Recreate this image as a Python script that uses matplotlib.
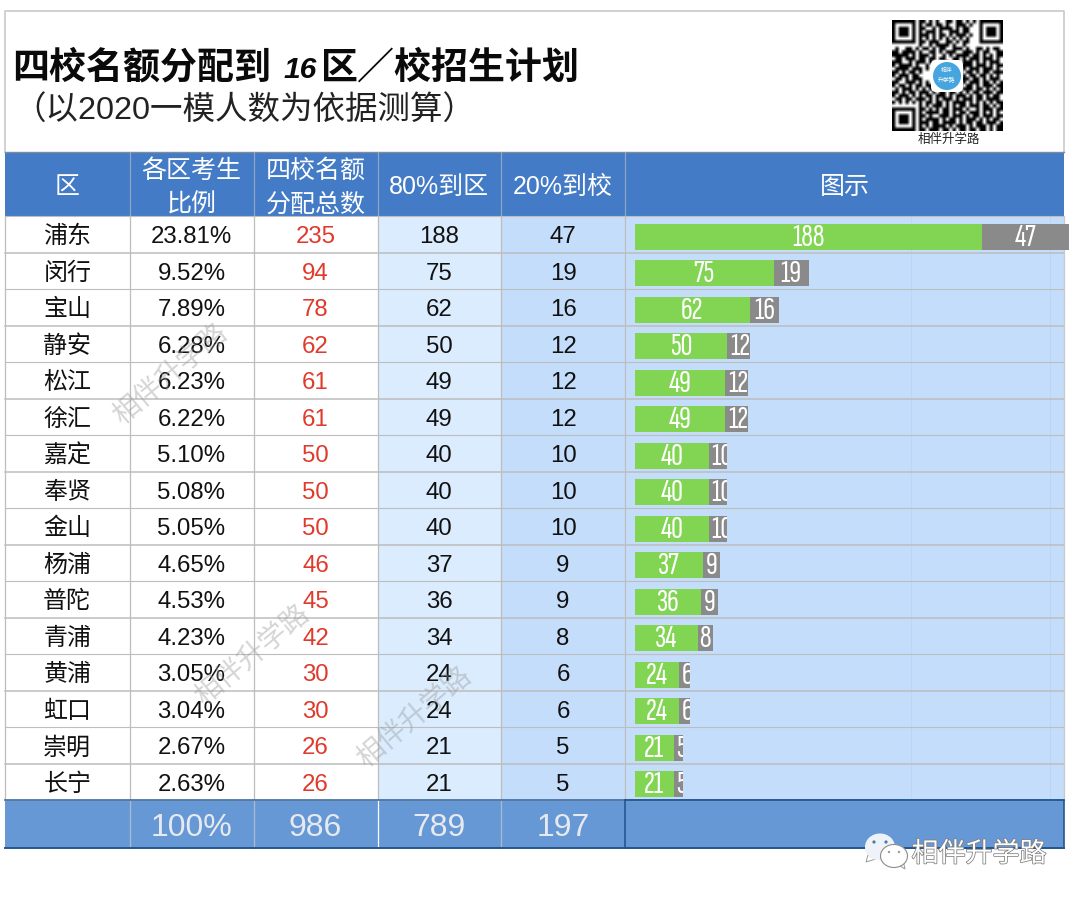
import numpy as np
import matplotlib
matplotlib.use("Agg")
import matplotlib.pyplot as plt
import matplotlib.patheffects as pe
from matplotlib.patches import Rectangle, Ellipse, Circle, FancyBboxPatch, Polygon

# ── data ─────────────────────────────────────────────
DISTRICTS = ["浦东", "闵行", "宝山", "静安", "松江", "徐汇", "嘉定", "奉贤",
             "金山", "杨浦", "普陀", "青浦", "黄浦", "虹口", "崇明", "长宁"]
RATIOS = ["23.81%", "9.52%", "7.89%", "6.28%", "6.23%", "6.22%", "5.10%", "5.08%",
          "5.05%", "4.65%", "4.53%", "4.23%", "3.05%", "3.04%", "2.67%", "2.63%"]
TOTALS = [235, 94, 78, 62, 61, 61, 50, 50, 50, 46, 45, 42, 30, 30, 26, 26]
TO_DISTRICT = [188, 75, 62, 50, 49, 49, 40, 40, 40, 37, 36, 34, 24, 24, 21, 21]
TO_SCHOOL = [47, 19, 16, 12, 12, 12, 10, 10, 10, 9, 9, 8, 6, 6, 5, 5]
FOOTER = ["", "100%", "986", "789", "197"]
HEADERS = ["区", "各区考生\n比例", "四校名额\n分配总数", "80%到区", "20%到校", "图示"]
BRAND = "相伴升学路"

# QR body, finder squares are stamped on afterwards
QR_ROWS = [
    "........##.#.#..##.##.#.#........",
    "........#.##.##.#..###.#.........",
    "........##..#.####.#.##..........",
    "........#.###.#..###.##..........",
    "........###.#.##.#.###.#.........",
    "........#.#.#.#.#.#.#.#..........",
    "........##.###..##.#.##..........",
    "........#..#.####.#..#...........",
    ".#..##.#.##.#.##..###.#..##.#.##.",
    "##.####.#..##.#.###..###.#.##..##",
    "#####.#.###.#..#.#.####.##.#.#.##",
    ".##.###.##.##.##..##.#.###.###.#.",
    "###..#.###.#....#.##.###.#.#.###.",
    "#.####.#..#.......#.####.###.#.##",
    ".####.###.#........#.#.###.###.#.",
    "##.#.##.#.........###.##.#.##.###",
    "#.###.##...........#.#.##.##.#.#.",
    ".##.#.###.........#.###.##.#.###.",
    "##..###.#.#.......##.#.###.##.#.#",
    "#.##.#.##.##.....#.##.##.#.###.##",
    ".#.###.#.#.###.###.#.###.##.#.#.#",
    "##.#.##.###.#.##.##.#.#.##.###.##",
    "#.###.#.#.##.###.#.###.#.##.#.##.",
    ".##.##.###.#.#.###.#.###.##.####.",
    "#.#.#.#.#.##.##.#.####.#.#.#.#.##",
    "........#.#.###.#.#.##.###.##.#.#",
    "........##.#.#.##.###.#..#.###.##",
    "........#.####.##.#.##.###.#.#.#.",
    "........##.#..###.###.#.##.###.##",
    "........#.####.#.##.#.###.#.#.##.",
    "........###.##.####.#.##.##.###.#",
    "........#.#.####.#.###.#.###.#.##",
    "........##.###.##.#.##.##.##.#.##",
]

# ── colours ──────────────────────────────────────────
HEADER_BLUE = "#437BC6"
FOOTER_BLUE = "#6698D6"
DARK_LINE = "#22588F"
GRID = "#BDBDBD"
FRAME = "#C9C9C9"
COL_LIGHT = "#DAECFD"
COL_MID = "#C3DDFB"
RED = "#DF3A2B"
GREEN = "#82D552"
GREY_BAR = "#8A8A8A"
FOOT_TEXT = "#E6E9EE"

MIXED = ["Liberation Sans", "Noto Sans CJK SC"]
CJK = ["Noto Sans CJK SC", "Liberation Sans"]
NARROW = ["Sofia Sans Extra Condensed", "Barlow Condensed", "Liberation Sans"]

# ── layout in pixels ─────────────────────────────────
COL_X = [5, 129.5, 253.5, 377.5, 501, 625, 1064]
HEAD_TOP, HEAD_BOT = 152, 216
ROW_H = 36.5
FOOT_TOP = HEAD_BOT + ROW_H * len(DISTRICTS)
FOOT_BOT = 848
TEXT_DY = 3  # va="center" sits a little high for these fonts


def px(size):
    """font size given in pixels"""
    return size * 0.72


fig = plt.figure(figsize=(10.8, 9), dpi=100, facecolor="white")
ax = fig.add_axes([0, 0, 1, 1])
ax.set_xlim(0, 1080)
ax.set_ylim(900, 0)
ax.axis("off")

# frame above the table
ax.plot([5, 5, 1064, 1064], [HEAD_TOP, 11, 11, HEAD_TOP], color=FRAME, lw=1.2, zorder=1)

# title, the digits are set in italic like the original
ax.text(12, 68, "四校名额分配到", fontsize=px(37), fontweight="bold", family=CJK, va="center", color="#0a0a0a")
ax.text(300, 70, "16", fontsize=px(30), fontweight="bold", fontstyle="italic", family=["Liberation Sans"],
        ha="center", va="center", color="#0a0a0a")
ax.text(321, 68, "区／校招生计划", fontsize=px(37), fontweight="bold", family=CJK, va="center", color="#0a0a0a")
ax.text(13, 110, "（以2020一模人数为依据测算）", fontsize=px(32.5), family=MIXED, va="center", color="#222222")

# qr code
qr = np.array([[0.0 if c == "#" else 1.0 for c in r.ljust(33, ".")[:33]] for r in QR_ROWS])
for r0, c0 in [(0, 0), (0, 26), (26, 0)]:
    qr[r0:r0 + 7, c0:c0 + 7] = 0
    qr[r0 + 1:r0 + 6, c0 + 1:c0 + 6] = 1
    qr[r0 + 2:r0 + 5, c0 + 2:c0 + 5] = 0
ax.imshow(qr, cmap="gray", vmin=0, vmax=1, extent=(892, 1003, 131, 20), interpolation="bilinear",
          aspect="auto", zorder=2)
ax.set_xlim(0, 1080)
ax.set_ylim(900, 0)
ax.add_patch(FancyBboxPatch((931, 60), 32, 32, boxstyle="round,pad=0,rounding_size=5", fc="white", ec="none",
                            zorder=3))
ax.add_patch(Circle((947, 76), 14, fc="#46A5DE", ec="none", zorder=4))
ax.text(947, 70, "相伴", fontsize=4.2, color="white", family=CJK, ha="center", va="center", zorder=5)
ax.text(947, 80, "升学路", fontsize=4.2, color="white", family=CJK, ha="center", va="center", zorder=5)
ax.text(949, 139, BRAND, fontsize=px(12.5), color="#222222", family=CJK, ha="center", va="center")

# header band
ax.add_patch(Rectangle((5, HEAD_TOP), 1059, HEAD_BOT - HEAD_TOP, fc=HEADER_BLUE, ec="none", zorder=1))
ax.plot([5, 1064], [HEAD_TOP, HEAD_TOP], color="#7f8c9c", lw=1, zorder=2)
for i, label in enumerate(HEADERS):
    cx = (COL_X[i] + COL_X[i + 1]) / 2
    if i + 1 < len(HEADERS):
        ax.plot([COL_X[i + 1]] * 2, [HEAD_TOP, HEAD_BOT], color="#8fa6c4", lw=0.9, zorder=2)
    if "\n" in label:
        top, bottom = label.split("\n")
        ax.text(cx, 168 + TEXT_DY, top, fontsize=px(25), color="white", family=MIXED, ha="center", va="center", zorder=3)
        ax.text(cx, 203 + TEXT_DY - 1, bottom, fontsize=px(25), color="white", family=MIXED, ha="center", va="center", zorder=3)
    else:
        ax.text(cx, 185 + TEXT_DY - 1, label, fontsize=px(25), color="white", family=MIXED, ha="center", va="center", zorder=3)

# coloured body columns
ax.add_patch(Rectangle((COL_X[3], HEAD_BOT), COL_X[4] - COL_X[3], FOOT_TOP - HEAD_BOT, fc=COL_LIGHT, ec="none", zorder=1))
ax.add_patch(Rectangle((COL_X[4], HEAD_BOT), COL_X[6] - COL_X[4], FOOT_TOP - HEAD_BOT, fc=COL_MID, ec="none", zorder=1))
for x in (911, 1050):
    ax.plot([x, x], [HEAD_BOT, FOOT_TOP], color="#BAD5F3", lw=0.6, zorder=1.1)

# grid
for i in range(len(DISTRICTS) + 1):
    y = HEAD_BOT + ROW_H * i
    ax.plot([5, 1064], [y, y], color=GRID, lw=1.1 if i % 2 else 0.8, zorder=2)
for x in COL_X:
    ax.plot([x, x], [HEAD_BOT, FOOT_TOP], color=GRID if x < 1064 else FRAME, lw=0.9, zorder=2)

# body text
for i, name in enumerate(DISTRICTS):
    y = HEAD_BOT + ROW_H * (i + 0.5)
    cells = [name, RATIOS[i], TOTALS[i], TO_DISTRICT[i], TO_SCHOOL[i]]
    for j, val in enumerate(cells):
        cx = (COL_X[j] + COL_X[j + 1]) / 2
        ax.text(cx, y + TEXT_DY, str(val), fontsize=px(24), family=MIXED, ha="center", va="center",
                color=RED if j == 2 else "#111111", zorder=3)

# footer
ax.add_patch(Rectangle((5, FOOT_TOP), 1059, FOOT_BOT - FOOT_TOP, fc=FOOTER_BLUE, ec="none", zorder=1))
for i, label in enumerate(FOOTER):
    cx = (COL_X[i] + COL_X[i + 1]) / 2
    ax.text(cx, 825 + TEXT_DY, label, fontsize=px(32), color=FOOT_TEXT, family=MIXED, ha="center", va="center", zorder=3)
for i, x in enumerate(COL_X[1:5]):
    ax.plot([x, x], [FOOT_TOP, FOOT_BOT], color="white" if i == 2 else "#A9BBD0", lw=0.9, zorder=2)
ax.plot([5, 1064], [FOOT_TOP, FOOT_TOP], color="#3E6C9F", lw=1.2, zorder=2)
ax.plot([5, 1064], [FOOT_BOT, FOOT_BOT], color=DARK_LINE, lw=1.4, zorder=2)
ax.plot([625, 625, 1064, 1064, 625], [FOOT_TOP, FOOT_BOT, FOOT_BOT, FOOT_TOP, FOOT_TOP], color=DARK_LINE, lw=1.2, zorder=2)

# watermarks
for wx, wy in [(170, 374), (252, 655), (414, 717)]:
    ax.text(wx, wy, BRAND, fontsize=px(28), color="#9a9a9a", alpha=0.42, family=CJK, rotation=40,
            rotation_mode="anchor", ha="center", va="center", zorder=6)

# wechat mark
ax.add_patch(Polygon([[868, 855], [866, 862], [876, 859]], fc="white", ec="#999999", lw=0.7, zorder=7))
ax.add_patch(Ellipse((880, 847), 30, 27, fc="#EEF3FA", ec="none", zorder=7))
ax.add_patch(Circle((874, 842), 1.6, fc="#4F78A8", ec="none", zorder=8))
ax.add_patch(Circle((886, 842), 1.6, fc="#4F78A8", ec="none", zorder=8))
ax.add_patch(Polygon([[897, 864], [905, 869], [903, 860]], fc="white", ec="#999999", lw=0.7, zorder=8))
ax.add_patch(Ellipse((894, 856), 27, 23, fc="white", ec="#8c8c8c", lw=0.8, zorder=8))
ax.add_patch(Circle((889, 852), 1.2, fc="#9a9a9a", ec="none", zorder=9))
ax.add_patch(Circle((899, 852), 1.2, fc="#9a9a9a", ec="none", zorder=9))
ax.text(979, 854, BRAND, fontsize=px(27), color="white", family=CJK, ha="center", va="center", zorder=8,
        path_effects=[pe.withStroke(linewidth=1.1, foreground="#7d7d7d")])

# stacked bars, on their own axes so the scale comes from the values
BAR_LEFT, BAR_RIGHT = 635, 1069
ax_bar = fig.add_axes([BAR_LEFT / 1080, 1 - FOOT_TOP / 900, (BAR_RIGHT - BAR_LEFT) / 1080,
                       (FOOT_TOP - HEAD_BOT) / 900], zorder=5)
ax_bar.patch.set_alpha(0)
ax_bar.axis("off")
rows = np.arange(len(DISTRICTS))
centers = rows + 0.57
ax_bar.set_xlim(0, TOTALS[0])
ax_bar.set_ylim(len(DISTRICTS), 0)
bars_a = ax_bar.barh(centers, TO_DISTRICT, height=26 / ROW_H, color=GREEN)
bars_b = ax_bar.barh(centers, TO_SCHOOL, left=TO_DISTRICT, height=26 / ROW_H, color=GREY_BAR)

unit_px = (BAR_RIGHT - BAR_LEFT) / TOTALS[0]
for bars, lefts, vals in [(bars_a, [0] * len(rows), TO_DISTRICT), (bars_b, TO_DISTRICT, TO_SCHOOL)]:
    for patch, left, val, yc in zip(bars, lefts, vals, centers):
        label = str(val)
        # labels that do not fit start at the left edge and get cut by the bar
        if val * unit_px < 11.5 * len(label):
            t = ax_bar.text(left + 1.5, yc + 0.03, label, ha="left", va="center", color="white", fontsize=px(33), family=NARROW)
        else:
            t = ax_bar.text(left + val / 2, yc + 0.03, label, ha="center", va="center", color="white", fontsize=px(33), family=NARROW)
        t.set_clip_path(patch)
        t.set_clip_on(True)

fig.savefig("out.png", dpi=100)
